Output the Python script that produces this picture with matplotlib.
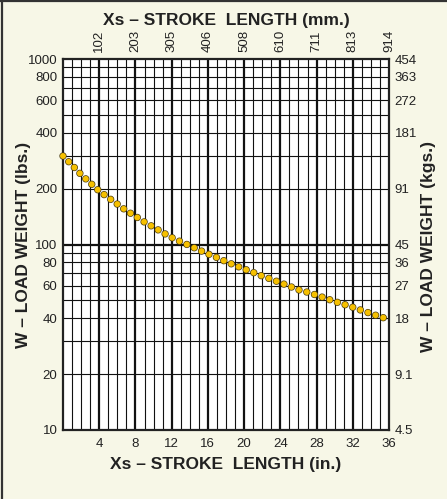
import matplotlib
matplotlib.use("Agg")
import matplotlib.pyplot as plt
from matplotlib.lines import Line2D

plt.rcParams['lines.scale_dashes'] = False
FONT = ['Liberation Sans Narrow', 'Liberation Sans', 'DejaVu Sans']
plt.rcParams['font.family'] = FONT

# Stroke length (in.) and allowable load weight (lbs.)
stroke_in = list(range(0, 37))
load_lbs = [300, 268, 238, 215, 194, 179, 165, 152, 142, 132,
            124, 116, 109, 103.5, 98.5, 93.5, 89, 85, 80.8, 77.2,
            73.8, 70.7, 67.6, 65.0, 62.2, 59.6, 57.0, 55.3, 53.3, 51.3,
            49.3, 47.6, 45.9, 44.1, 42.4, 40.8, 39.5]

# Axis tick values and labels
x_ticks = [4, 8, 12, 16, 20, 24, 28, 32, 36]
x_ticklabels = ['4', '8', '12', '16', '20', '24', '28', '32', '36']
mm_ticklabels = ['102', '203', '305', '406', '508', '610', '711', '813', '914']
y_ticks = [10, 20, 40, 60, 80, 100, 200, 400, 600, 800, 1000]
y_ticklabels = ['10', '20', '40', '60', '80', '100', '200', '400', '600', '800', '1000']
kg_ticklabels = ['4.5', '9.1', '18', '27', '36', '45', '91', '181', '272', '363', '454']

BG = '#F7F7E7'
INK = '#222222'
W, H = 447, 499
fig = plt.figure(figsize=(W / 100, H / 100), dpi=100, facecolor=BG)
ax = fig.add_axes([63 / W, 1 - 430 / H, 326 / W, 371 / H])
ax.set_facecolor('white')
ax.set_yscale('log')
ax.set_xlim(0, 36)
ax.set_ylim(10, 1000)

# grid: every inch vertically, heavier every 4 in.
for xv in range(1, 36):
    lw = 1.6 if xv % 4 == 0 else 0.8
    ax.axvline(xv, color='#111111', lw=lw, zorder=1)
for dec in (10, 100):
    for m in range(2, 10):
        ax.axhline(dec * m, color='#111111', lw=0.8, zorder=1)
ax.axhline(100, color='#111111', lw=1.6, zorder=1)

for s in ax.spines.values():
    s.set_linewidth(1.6)
    s.set_color(INK)

TICK_FS = 9.5
ax.set_xticks(x_ticks)
ax.set_xticklabels(x_ticklabels)
ax.set_yticks(y_ticks)
ax.set_yticklabels(y_ticklabels)
ax.minorticks_off()
ax.tick_params(length=0, labelsize=TICK_FS, colors=INK, pad=4)
ax.tick_params(axis='x', pad=6)

# right axis in kilograms
axr = ax.twinx()
axr.set_yscale('log')
axr.set_ylim(10, 1000)
axr.set_yticks(y_ticks)
axr.set_yticklabels(kg_ticklabels)
axr.minorticks_off()
axr.tick_params(length=0, labelsize=TICK_FS, colors=INK, pad=4)
for s in axr.spines.values():
    s.set_visible(False)

# top axis in millimetres
axt = ax.twiny()
axt.set_xlim(0, 36)
axt.set_xticks(x_ticks)
axt.set_xticklabels(mm_ticklabels, rotation=90)
axt.tick_params(length=0, labelsize=TICK_FS, colors=INK, pad=5)
for s in axt.spines.values():
    s.set_visible(False)

# dotted load curve: dark outline dots under yellow dots
ax.plot(stroke_in, load_lbs, color='#4a3c12', lw=5.3, dashes=(0.01, 5.8),
        dash_capstyle='round', zorder=5, clip_on=False)
ax.plot(stroke_in, load_lbs, color='#F6C000', lw=4.3, dashes=(0.01, 5.8),
        dash_capstyle='round', zorder=6, clip_on=False)

title_kw = dict(fontsize=12.5, fontweight='bold', color=INK, family=FONT,
                ha='center', va='center')
fig.text(226 / W, 1 - 20 / H, 'Xs – STROKE  LENGTH (mm.)', **title_kw)
fig.text(226 / W, 1 - 465 / H, 'Xs – STROKE  LENGTH (in.)', **title_kw)
fig.text(24 / W, 1 - 245 / H, 'W – LOAD WEIGHT (lbs.)', rotation=90, **title_kw)
fig.text(428 / W, 1 - 247 / H, 'W – LOAD WEIGHT (kgs.)', rotation=90, **title_kw)

# frame edges of the panel
fig.add_artist(Line2D([0, 1], [1 - 1 / H, 1 - 1 / H], transform=fig.transFigure,
                      color='#333333', lw=1.6))
fig.add_artist(Line2D([1.5 / W, 1.5 / W], [0, 1], transform=fig.transFigure,
                      color='#333333', lw=1.6))

fig.savefig('out.png', dpi=100, facecolor=BG)
